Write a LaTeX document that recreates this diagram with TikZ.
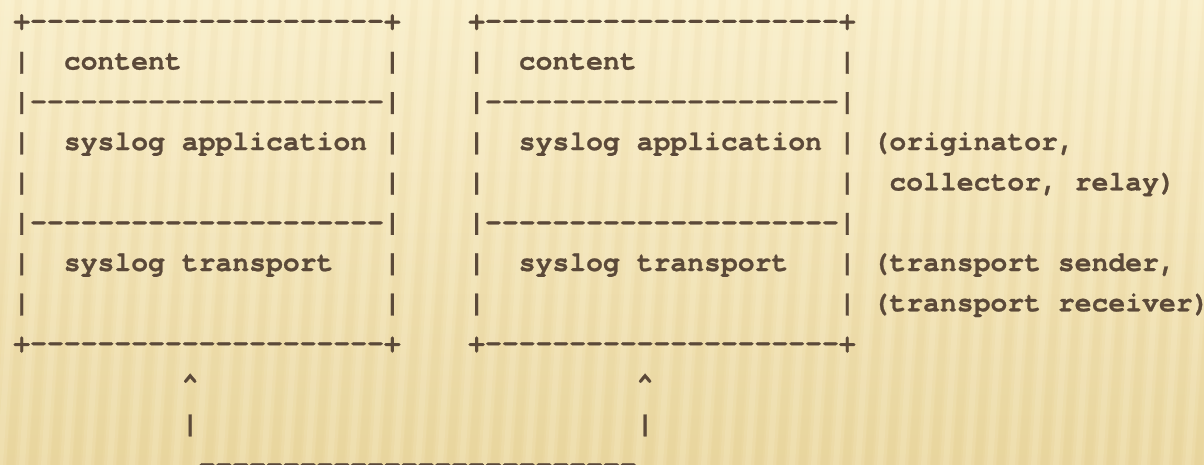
\documentclass[tikz,border=0pt]{standalone}
\usepackage{fontspec}
\newfontfamily\asciifont{texgyrecursor}[Extension=.otf, UprightFont=*-regular, BoldFont=*-bold, BoldFeatures={FakeBold=0.8}]
\newlength\cw
\setlength\cw{16.848pt}
\newcommand\SPC[1]{\hspace*{#1\cw}}
\newcommand\DSH{---------------------}
\definecolor{bgtop}{HTML}{F9EECA}
\definecolor{bgbot}{HTML}{EAD7A0}
\definecolor{ink}{HTML}{5B4939}
\definecolor{stripelight}{HTML}{FFF8DE}
\definecolor{stripedark}{HTML}{D9C080}
\tikzset{
  asc/.style={anchor=base west, inner sep=0pt, outer sep=0pt, text=ink,
    font=\asciifont\bfseries\fontsize{28.08pt}{40.3pt}\selectfont}
}
\begin{document}
\begin{tikzpicture}[x=1pt, y=-1pt]
\useasboundingbox (0,0) rectangle (1204,465);
\fill[top color=bgtop, bottom color=bgbot] (0,0) rectangle (1204,465);
\foreach \x in {-20,2,...,1280} {
  \fill[stripelight, opacity=0.10] (\x,0) -- ({\x+12},0) -- ({\x-18},465) -- ({\x-30},465) -- cycle;
  \fill[stripelight, opacity=0.14] ({\x+3},0) -- ({\x+9},0) -- ({\x-21},465) -- ({\x-27},465) -- cycle;
  \fill[stripedark, opacity=0.07] ({\x+13},0) -- ({\x+20},0) -- ({\x-10},465) -- ({\x-17},465) -- cycle;
}
\node[asc] (l0) at (13.3,29.2) {+\DSH+\SPC4+\DSH+};
\node[asc] (l1) at (13.3,69.5) {|\SPC2content\SPC{12}|\SPC4|\SPC2content\SPC{12}|};
\node[asc] (l2) at (13.3,109.8) {|\DSH|\SPC4|\DSH|};
\node[asc] (l3) at (13.3,150.1) {|\SPC2syslog\SPC1application\SPC1|\SPC4|\SPC2syslog\SPC1application\SPC1|\SPC1(originator,};
\node[asc] (l4) at (13.3,190.4) {|\SPC{21}|\SPC4|\SPC{21}|\SPC2collector,\SPC1relay)};
\node[asc] (l5) at (13.3,230.7) {|\DSH|\SPC4|\DSH|};
\node[asc] (l6) at (13.3,271.0) {|\SPC2syslog\SPC1transport\SPC3|\SPC4|\SPC2syslog\SPC1transport\SPC3|\SPC1(transport\SPC1sender,};
\node[asc] (l7) at (13.3,311.3) {|\SPC{21}|\SPC4|\SPC{21}|\SPC1(transport\SPC1receiver)};
\node[asc] (l8) at (13.3,351.6) {+\DSH+\SPC4+\DSH+};
\node[asc] (l9) at (13.3,391.9) {\SPC{10}\textasciicircum\SPC{26}\textasciicircum};
\node[asc] (l10) at (13.3,432.2) {\SPC{10}|\SPC{26}|};
\node[asc] (l11) at (13.3,472.5) {\SPC{11}--------------------------};
\end{tikzpicture}
\end{document}
